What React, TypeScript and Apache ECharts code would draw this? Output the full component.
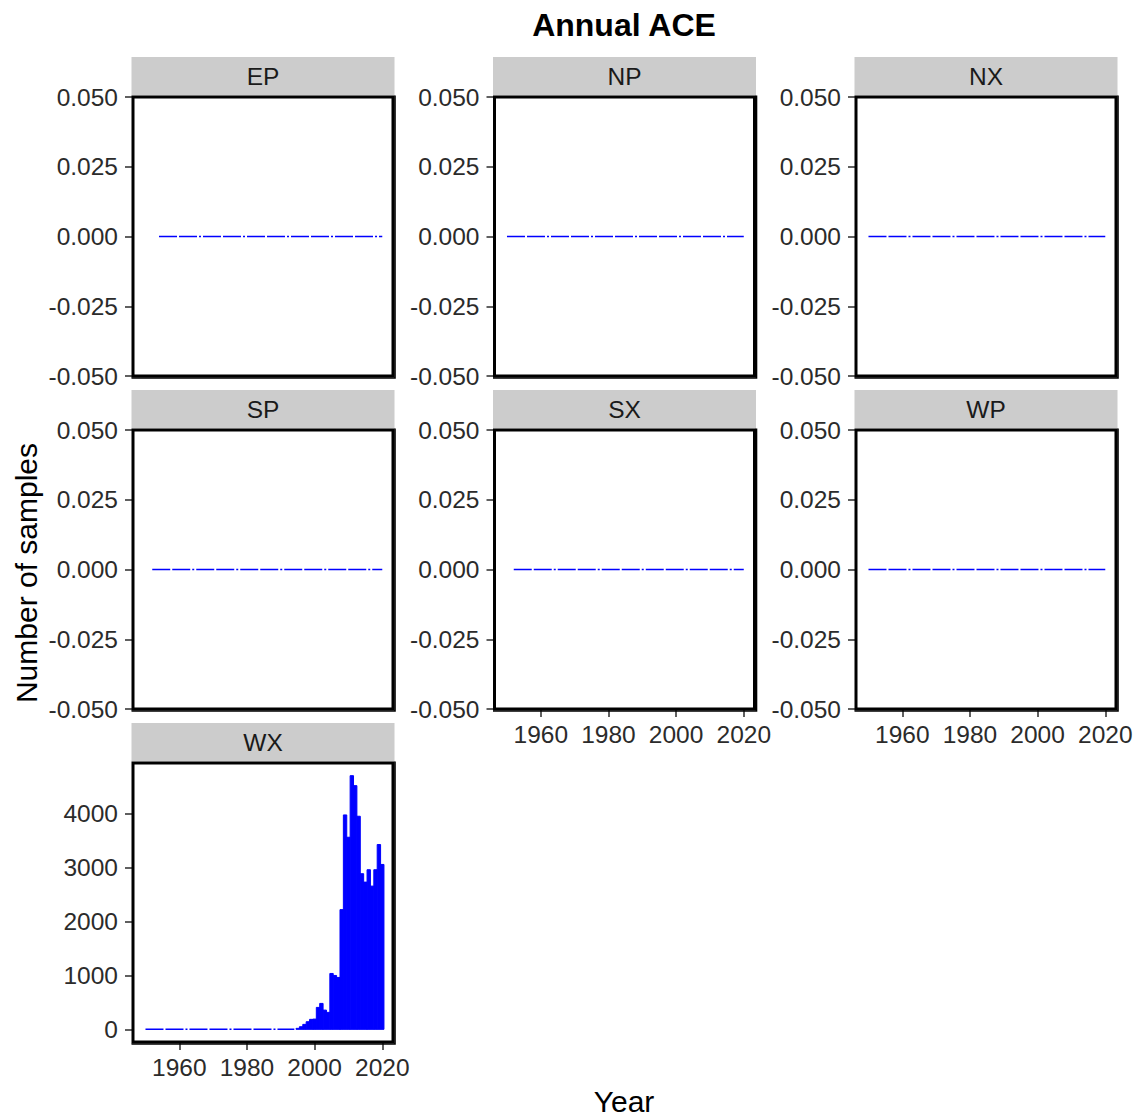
import React, { useEffect, useRef } from "react";
import * as echarts from "echarts";

// Regions, in facet order (three per row)
const regions = ["EP", "NP", "NX", "SP", "SX", "WP", "WX"];

// Years over which each region has a record of zero samples
const zeroFrom = [1954, 1950, 1950, 1952, 1952, 1950, 1950];
const zeroTo = [2020, 2020, 2020, 2020, 2020, 2020, 1994];

// WX: number of samples per year
const wxYears = [
  1995, 1996, 1997, 1998, 1999, 2000, 2001, 2002, 2003, 2004, 2005, 2006, 2007,
  2008, 2009, 2010, 2011, 2012, 2013, 2014, 2015, 2016, 2017, 2018, 2019, 2020,
];
const wxCounts = [
  18, 48, 92, 141, 185, 190, 407, 481, 357, 315, 1037, 1000, 963,
  2222, 3980, 3566, 4709, 4524, 3956, 2889, 2733, 2963, 2659, 2963, 3431, 3061,
];

// Tick labels
const yearTicks = [1960, 1980, 2000, 2020];
const zeroTicks = [-0.05, -0.025, 0, 0.025, 0.05];
const wxTicks = [0, 1000, 2000, 3000, 4000];

const FONT = '"Liberation Sans", Arial, Helvetica, sans-serif';
const TEXT = "#2b2b2b";

// Facet layout
const colLeft = [133, 494.5, 856];
const rowTop = [97, 430, 763];
const PW = 260;
const PH = 279;
const X_MIN = 1946.31;
const X_MAX = 2023.17;

function buildOption() {
  const grids: any[] = [];
  const xAxes: any[] = [];
  const yAxes: any[] = [];
  const series: any[] = [];
  const graphics: any[] = [];

  const wxMax = Math.max(...wxCounts);

  regions.forEach((name, i) => {
    const row = Math.floor(i / 3);
    const col = i % 3;
    const left = colLeft[col];
    const top = rowTop[row];
    // a column's x axis is drawn under its lowest panel
    const lowest = i + 3 >= regions.length;
    const isWX = name === "WX";

    grids.push({ left, top, width: PW, height: PH, containLabel: false });

    xAxes.push({
      type: "value",
      gridIndex: i,
      position: "bottom",
      min: X_MIN,
      max: X_MAX,
      axisLine: { show: false, onZero: false },
      splitLine: { show: false },
      axisTick: {
        show: lowest,
        customValues: yearTicks,
        length: 8,
        lineStyle: { color: TEXT, width: 1.5 },
      },
      axisLabel: {
        show: lowest,
        customValues: yearTicks,
        fontSize: 24.5,
        fontFamily: FONT,
        color: TEXT,
        margin: 13,
        formatter: (v: number) => String(Math.round(v)),
      },
    });

    const yTicks = isWX ? wxTicks : zeroTicks;
    yAxes.push({
      type: "value",
      gridIndex: i,
      position: "left",
      min: isWX ? -0.05 * wxMax : -0.05,
      max: isWX ? 1.05 * wxMax : 0.05,
      axisLine: { show: false, onZero: false },
      splitLine: { show: false },
      axisTick: {
        show: true,
        customValues: yTicks,
        length: 8,
        lineStyle: { color: TEXT, width: 1.5 },
      },
      axisLabel: {
        customValues: yTicks,
        fontSize: 24.5,
        fontFamily: FONT,
        color: TEXT,
        margin: 15,
        formatter: (v: number) =>
          isWX ? String(Math.round(v)) : Math.abs(v) < 1e-9 ? "0.000" : v.toFixed(3),
      },
    });

    // zero-sample years
    series.push({
      type: "line",
      xAxisIndex: i,
      yAxisIndex: i,
      data: [
        [zeroFrom[i], 0],
        [zeroTo[i], 0],
      ],
      symbol: "none",
      silent: true,
      lineStyle: { color: "#0000ff", width: 1.6, type: [18, 2, 18, 2, 2, 2] },
      z: 2,
    });

    if (isWX) {
      series.push({
        type: "custom",
        xAxisIndex: i,
        yAxisIndex: i,
        data: wxYears.map((y, k) => [y, wxCounts[k]]),
        encode: { x: 0, y: 1 },
        renderItem: (_params: any, api: any) => {
          const yr = api.value(0);
          const v = api.value(1);
          const p0 = api.coord([yr - 0.5, v]);
          const p1 = api.coord([yr + 0.5, 0]);
          return {
            type: "rect",
            shape: { x: p0[0], y: p0[1], width: p1[0] - p0[0], height: p1[1] - p0[1] },
            style: { fill: "#0000ff", stroke: "#0000ff", lineWidth: 1 },
          };
        },
        z: 3,
      });
    }

    // strip
    graphics.push({
      type: "rect",
      shape: { x: left - 1.5, y: top - 40, width: PW + 3, height: 38.5 },
      style: { fill: "#cccccc" },
      z: 5,
    });
    graphics.push({
      type: "text",
      x: left + PW / 2,
      y: top - 20.5,
      style: {
        text: name,
        fontSize: 24.5,
        fontFamily: FONT,
        fill: "#1a1a1a",
        align: "center",
        verticalAlign: "middle",
      },
      z: 6,
    });
    // panel border
    graphics.push({
      type: "rect",
      shape: { x: left, y: top, width: PW, height: PH },
      style: { fill: "none", stroke: "#000", lineWidth: 3 },
      z: 10,
    });
    graphics.push({
      type: "polyline",
      shape: {
        points: [
          [left + PW + 2, top - 1.5],
          [left + PW + 2, top + PH + 2],
          [left - 1.5, top + PH + 2],
        ],
      },
      style: { fill: "none", stroke: "#000", lineWidth: 1.6 },
      z: 10,
    });
  });

  graphics.push({
    type: "text",
    x: 624,
    y: 25,
    style: {
      text: "Annual ACE",
      fontSize: 32,
      fontWeight: "bold",
      fontFamily: FONT,
      fill: "#000",
      align: "center",
      verticalAlign: "middle",
    },
  });
  graphics.push({
    type: "text",
    x: 624,
    y: 1101,
    style: {
      text: "Year",
      fontSize: 30,
      fontFamily: FONT,
      fill: "#000",
      align: "center",
      verticalAlign: "middle",
    },
  });
  graphics.push({
    type: "text",
    x: 26,
    y: 573,
    rotation: Math.PI / 2,
    style: {
      text: "Number of samples",
      fontSize: 30,
      fontFamily: FONT,
      fill: "#000",
      align: "center",
      verticalAlign: "middle",
    },
  });

  return {
    animation: false,
    backgroundColor: "#ffffff",
    grid: grids,
    xAxis: xAxes,
    yAxis: yAxes,
    series,
    graphic: graphics,
  };
}

export default function App() {
  const ref = useRef<HTMLDivElement>(null);
  useEffect(() => {
    if (!ref.current) return;
    const chart = echarts.init(ref.current, null, { renderer: "svg" });
    chart.setOption(buildOption());
    return () => chart.dispose();
  }, []);
  return (
    <div
      ref={ref}
      style={{ position: "absolute", left: 0, top: 0, width: 1142, height: 1118, background: "#fff" }}
    />
  );
}
